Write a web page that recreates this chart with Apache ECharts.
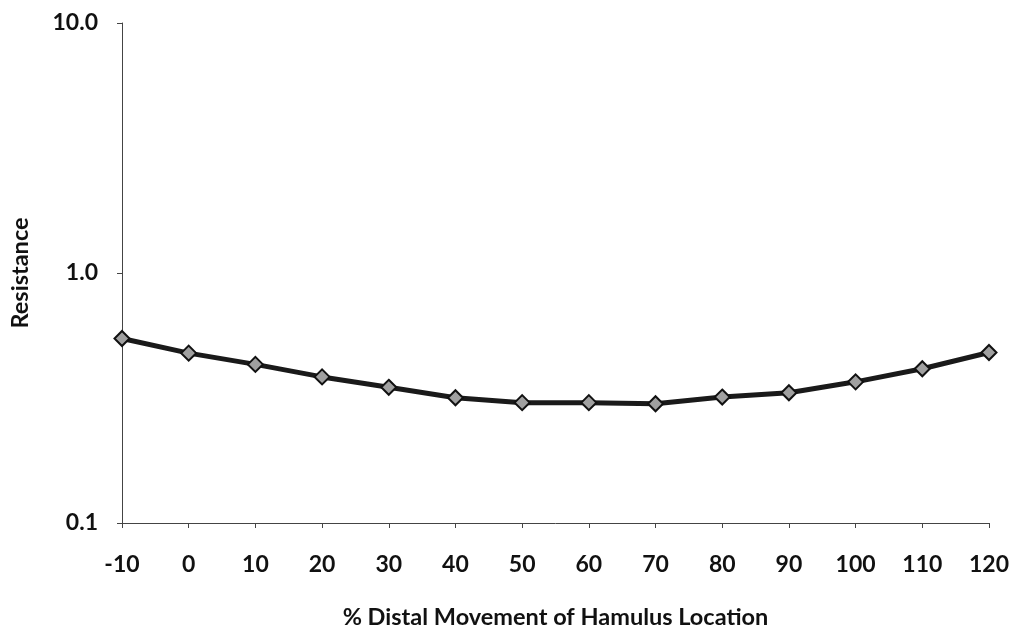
<!DOCTYPE html>
<html>
<head>
<meta charset="utf-8">
<script src="https://cdn.jsdelivr.net/npm/echarts@6/dist/echarts.min.js"></script>
<style>
html,body{margin:0;padding:0;background:#fff;}
#c{width:1012px;height:634px;}
</style>
</head>
<body>
<div id="c"></div>
<script>
const categories = ['-10','0','10','20','30','40','50','60','70','80','90','100','110','120'];
const resistance = [0.547,0.478,0.431,0.384,0.349,0.317,0.303,0.303,0.300,0.319,0.332,0.367,0.414,0.481];
const xTitle = '% Distal Movement of Hamulus Location';
const yTitle = 'Resistance';

const FONT = 'Lato';
const chart = echarts.init(document.getElementById('c'), null, {renderer:'canvas'});
chart.setOption({
  animation:false,
  backgroundColor:'#fff',
  grid:{left:121,right:23,top:23,bottom:104.5,containLabel:false},
  xAxis:{
    type:'category',
    data:categories,
    boundaryGap:false,
    name:xTitle,
    nameLocation:'middle',
    nameGap:82,
    nameTextStyle:{fontFamily:FONT,fontWeight:'bold',fontSize:23.5,color:'#111'},
    axisLine:{lineStyle:{color:'#444',width:1}},
    axisTick:{show:true,length:5,alignWithLabel:true,lineStyle:{color:'#444'}},
    axisLabel:{fontFamily:FONT,fontWeight:'bold',fontSize:23,color:'#111',margin:30},
    splitLine:{show:false}
  },
  yAxis:{
    type:'log',
    logBase:10,
    min:0.1,
    max:10,
    name:yTitle,
    nameLocation:'middle',
    nameGap:90,
    nameRotate:90,
    nameTextStyle:{fontFamily:FONT,fontWeight:'bold',fontSize:23.5,color:'#111'},
    axisLine:{show:true,lineStyle:{color:'#444',width:1}},
    axisTick:{show:true,length:5,lineStyle:{color:'#444'}},
    axisLabel:{fontFamily:FONT,fontWeight:'bold',fontSize:23,color:'#111',margin:24,
      formatter:function(v){return Number(v).toFixed(1);}},
    splitLine:{show:false}
  },
  series:[{
    type:'line',
    data:resistance,
    symbol:'diamond',
    symbolSize:15,
    lineStyle:{color:'#1a1a1a',width:5},
    itemStyle:{color:'#a0a0a0',borderColor:'#111',borderWidth:2},
    z:3
  }]
});
</script>
</body>
</html>
